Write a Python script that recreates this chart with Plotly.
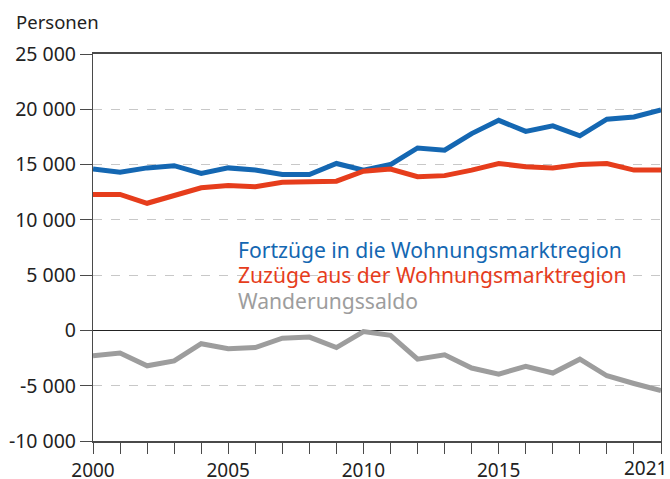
import plotly.graph_objects as go

years = list(range(2000, 2022))
fortzuege = [14600, 14300, 14700, 14900, 14200, 14700, 14500, 14100, 14100, 15100, 14500, 15000,
             16500, 16300, 17800, 19000, 18000, 18500, 17600, 19100, 19300, 19950]
zuzuege = [12300, 12300, 11500, 12200, 12900, 13100, 13000, 13400, 13500, 13500, 14400, 14600,
           13900, 14000, 14500, 15100, 14800, 14700, 15000, 15100, 14500, 14500]
saldo = [-2300, -2050, -3200, -2750, -1200, -1650, -1550, -700, -600, -1550, -100, -450,
         -2600, -2200, -3400, -3950, -3250, -3850, -2600, -4100, -4800, -5450]

series_names = ["Fortzüge in die Wohnungsmarktregion", "Zuzüge aus der Wohnungsmarktregion", "Wanderungssaldo"]
colors = ["#1467b2", "#e63d1c", "#9d9d9d"]

y_tickvals = [25000, 20000, 15000, 10000, 5000, 0, -5000, -10000]
y_ticktext = ["25 000", "20 000", "15 000", "10 000", "5 000", "0", "-5 000", "-10 000"]
x_label_years = [2000, 2005, 2010, 2015]
last_year_label = "2021"

FONT = "Noto Sans"
AXC = "#4a4a4a"

fig = go.Figure()
for vals, name, col in zip([fortzuege, zuzuege, saldo], series_names, colors):
    fig.add_trace(go.Scatter(x=years, y=vals, mode="lines", name=name,
                             line=dict(color=col, width=5), showlegend=False, cliponaxis=True))

# legend as colored text
for yy, name, col in zip([0.496, 0.429, 0.363], series_names, colors):
    fig.add_annotation(text=name, xref="paper", yref="paper", x=0.253, y=yy,
                       xanchor="left", yanchor="middle", showarrow=False, borderpad=0,
                       font=dict(family=FONT, size=21.1, color=col))

fig.add_annotation(text="Personen", xref="paper", yref="paper", x=-0.139, y=1.083,
                   xanchor="left", yanchor="middle", showarrow=False,
                   font=dict(family=FONT, size=18.5, color="#222"))

# last year label, kept inside the picture
fig.add_annotation(text=last_year_label, xref="x", yref="paper", x=years[-1], y=0,
                   xanchor="right", yanchor="middle", xshift=7, yshift=-27, showarrow=False,
                   borderpad=0, font=dict(family=FONT, size=19, color="#222"))

fig.update_layout(
    width=670, height=479,
    margin=dict(l=93, r=9, t=54, b=38),
    paper_bgcolor="white", plot_bgcolor="white",
    font=dict(family=FONT, size=19.5, color="#222"),
)
fig.update_xaxes(range=[2000, 2021], tickmode="array", tickvals=years,
                 ticktext=[str(y) if y in x_label_years else "" for y in years],
                 ticks="outside", ticklen=11, tickcolor=AXC, tickwidth=1.2,
                 showline=True, linecolor=AXC, linewidth=1.5, mirror=True,
                 showgrid=False, zeroline=False, automargin=False,
                 tickfont=dict(family=FONT, size=19, color="#222"))
fig.update_yaxes(range=[-10000, 25000], tickmode="array", tickvals=y_tickvals, ticktext=y_ticktext,
                 ticks="outside", ticklen=12, tickcolor=AXC, tickwidth=1.2,
                 showline=True, linecolor=AXC, linewidth=1.2, mirror=True,
                 showgrid=True, gridcolor="#c8c8c8", griddash="dash", gridwidth=1.2,
                 zeroline=True, zerolinecolor="#222", zerolinewidth=1.2, automargin=False,
                 tickfont=dict(family=FONT, size=19.5, color="#222"))

fig.write_html("out.html", config={"displayModeBar": False},
               post_script="document.body.style.margin='0';")
